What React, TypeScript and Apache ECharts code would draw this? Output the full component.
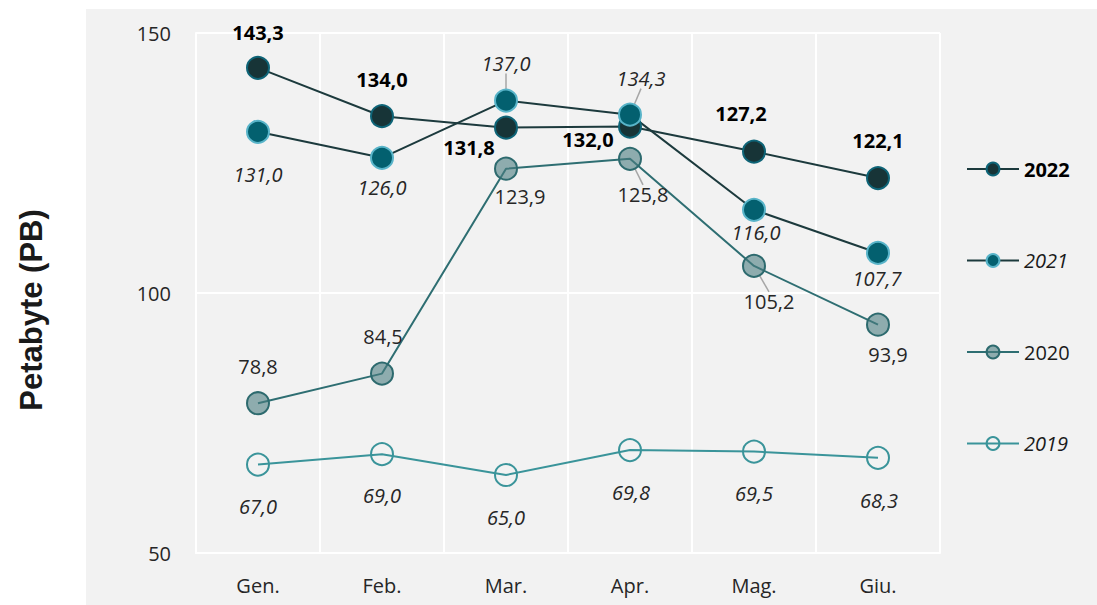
import React, { useEffect, useRef } from "react";
import * as echarts from "echarts";

const months = ["Gen.", "Feb.", "Mar.", "Apr.", "Mag.", "Giu."];
const v2022 = [143.3, 134.0, 131.8, 132.0, 127.2, 122.1];
const v2021 = [131.0, 126.0, 137.0, 134.3, 116.0, 107.7];
const v2020 = [78.8, 84.5, 123.9, 125.8, 105.2, 93.9];
const v2019 = [67.0, 69.0, 65.0, 69.8, 69.5, 68.3];
const yTicks = { min: 50, max: 150, interval: 50 };
const yTitle = "Petabyte (PB)";

// label placement (styling only)
const off2022 = [[0, -35], [0, -37], [-37, 20], [-42, 13], [-13, -38], [0, -38]];
const off2021 = [[0, 43], [0, 30], [0, -37], [11, -36], [2, 23], [-1, 26]];
const off2020 = [[0, -37], [1, -37], [14, 28], [13, 36], [15, 36], [10, 30]];
const off2019 = [[0, 42], [0, 41], [0, 42], [1, 42], [0, 42], [1, 43]];
const lead2021 = [false, false, true, true, false, false];
const lead2020 = [false, false, false, true, true, false];

const FONT = "'Open Sans', 'Noto Sans', sans-serif";
const fmt = (v: number) => v.toFixed(1).replace(".", ",");

function mkData(vals: number[], offs: number[][], leads?: boolean[]) {
  return vals.map((v, i) => ({
    value: v,
    label: { offset: offs[i] },
    labelLine: leads && leads[i] ? { show: true, lineStyle: { color: "#a6a6a6", width: 1.5 } } : { show: false },
  }));
}

export default function App() {
  const ref = useRef<HTMLDivElement>(null);
  useEffect(() => {
    if (!ref.current) return;
    const chart = echarts.init(ref.current, undefined, { renderer: "svg" });
    const baseLabel = {
      show: true,
      position: "inside",
      align: "center",
      verticalAlign: "middle",
      fontFamily: FONT,
      fontSize: 20,
      color: "#262626",
      formatter: (p: any) => fmt(p.value),
    };
    chart.setOption({
      animation: false,
      graphic: [
        {
          type: "rect",
          z: -10,
          silent: true,
          shape: { x: 86, y: 9, width: 1011, height: 596 },
          style: { fill: "#f2f2f2" },
        },
        {
          type: "text",
          x: 31,
          y: 310,
          rotation: Math.PI / 2,
          silent: true,
          style: {
            text: yTitle,
            x: 0,
            y: 0,
            align: "center",
            verticalAlign: "middle",
            font: "bold 31px 'Liberation Sans', Arial, sans-serif",
            fill: "#1a1a1a",
          },
        },
      ],
      grid: { left: 196, right: 157, top: 33, bottom: 52 },
      legend: {
        orient: "vertical",
        left: 961,
        top: 154,
        itemWidth: 52,
        itemHeight: 16,
        itemGap: 71.5,
        textStyle: { fontFamily: FONT, fontSize: 20, color: "#1a1a1a" },
        data: [
          { name: "2022", textStyle: { fontWeight: "bold", color: "#000" } },
          { name: "2021", textStyle: { fontStyle: "italic" } },
          { name: "2020" },
          { name: "2019", textStyle: { fontStyle: "italic" } },
        ],
      },
      xAxis: {
        type: "category",
        data: months,
        boundaryGap: true,
        axisLine: { show: true, lineStyle: { color: "#ffffff", width: 2 } },
        axisTick: { show: false },
        splitLine: { show: true, interval: 0, lineStyle: { color: "#ffffff", width: 2 } },
        axisLabel: { fontFamily: FONT, fontSize: 20, color: "#262626", margin: 22 },
      },
      yAxis: {
        type: "value",
        min: yTicks.min,
        max: yTicks.max,
        interval: yTicks.interval,
        axisLine: { show: true, lineStyle: { color: "#ffffff", width: 2 } },
        axisTick: { show: false },
        splitLine: { show: true, lineStyle: { color: "#ffffff", width: 2 } },
        axisLabel: { fontFamily: FONT, fontSize: 20, color: "#262626", margin: 25 },
      },
      series: [
        {
          name: "2022",
          type: "line",
          data: mkData(v2022, off2022),
          symbol: "circle",
          symbolSize: 22,
          lineStyle: { color: "#1c3a3d", width: 2 },
          itemStyle: { color: "#173437", borderColor: "#0e6477", borderWidth: 2 },
          label: { ...baseLabel, fontWeight: "bold", color: "#000" },
        },
        {
          name: "2021",
          type: "line",
          data: mkData(v2021, off2021, lead2021),
          symbol: "circle",
          symbolSize: 22,
          lineStyle: { color: "#1c3a3d", width: 2 },
          itemStyle: { color: "#03606f", borderColor: "#58b4c9", borderWidth: 2 },
          label: { ...baseLabel, fontStyle: "italic" },
        },
        {
          name: "2020",
          type: "line",
          data: mkData(v2020, off2020, lead2020),
          symbol: "circle",
          symbolSize: 22,
          lineStyle: { color: "#2e6e72", width: 2 },
          itemStyle: { color: "rgba(75,125,128,0.6)", borderColor: "#2d6a6e", borderWidth: 2 },
          label: { ...baseLabel },
        },
        {
          name: "2019",
          type: "line",
          data: mkData(v2019, off2019),
          symbol: "circle",
          symbolSize: 22,
          lineStyle: { color: "#3a949a", width: 2 },
          itemStyle: { color: "rgba(242,242,242,0)", borderColor: "#3a949a", borderWidth: 2 },
          label: { ...baseLabel, fontStyle: "italic" },
        },
      ],
    });
    return () => chart.dispose();
  }, []);
  return (
    <div
      ref={ref}
      style={{ position: "fixed", left: 0, top: 0, width: 1097, height: 605, background: "#ffffff" }}
    />
  );
}
